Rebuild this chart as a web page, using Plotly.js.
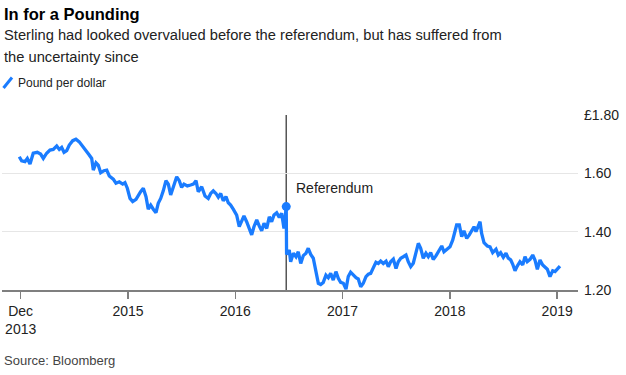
<!DOCTYPE html>
<html>
<head>
<meta charset="utf-8">
<script src="https://cdn.plot.ly/plotly-3.0.1.min.js"></script>
<style>
  html, body { margin: 0; padding: 0; background: #fff; }
  #chart { width: 626px; height: 375px; }
</style>
</head>
<body>
<div id="chart"></div>
<script>
// Dates as decimal years, values in dollars per pound
const years = [
  2013.987, 2014.009, 2014.040, 2014.062, 2014.087, 2014.117, 2014.155, 2014.186, 2014.211, 2014.242,
  2014.273, 2014.304, 2014.336, 2014.360, 2014.382, 2014.404, 2014.429, 2014.453, 2014.485, 2014.515,
  2014.546, 2014.578, 2014.609, 2014.639, 2014.662, 2014.677, 2014.702, 2014.723, 2014.746, 2014.776,
  2014.802, 2014.826, 2014.863, 2014.888, 2014.919, 2014.951, 2014.972, 2014.994, 2015.019, 2015.044,
  2015.075, 2015.096, 2015.118, 2015.143, 2015.168, 2015.189, 2015.212, 2015.236, 2015.261, 2015.282,
  2015.305, 2015.329, 2015.354, 2015.376, 2015.398, 2015.422, 2015.454, 2015.478, 2015.500, 2015.522,
  2015.553, 2015.584, 2015.609, 2015.634, 2015.655, 2015.687, 2015.718, 2015.748, 2015.771, 2015.795,
  2015.820, 2015.842, 2015.864, 2015.888, 2015.913, 2015.935, 2015.957, 2015.981, 2016.013, 2016.037,
  2016.060, 2016.081, 2016.106, 2016.131, 2016.153, 2016.174, 2016.200, 2016.224, 2016.246, 2016.268,
  2016.293, 2016.317, 2016.339, 2016.361, 2016.386, 2016.410, 2016.432, 2016.454, 2016.475, 2016.478,
  2016.503, 2016.516, 2016.541, 2016.566, 2016.587, 2016.610, 2016.634, 2016.659, 2016.680, 2016.703,
  2016.727, 2016.752, 2016.774, 2016.796, 2016.820, 2016.845, 2016.867, 2016.889, 2016.913, 2016.938,
  2016.960, 2016.982, 2017.007, 2017.032, 2017.053, 2017.075, 2017.100, 2017.125, 2017.146, 2017.169,
  2017.193, 2017.218, 2017.240, 2017.262, 2017.286, 2017.311, 2017.333, 2017.355, 2017.379, 2017.405,
  2017.426, 2017.448, 2017.473, 2017.498, 2017.519, 2017.542, 2017.566, 2017.591, 2017.612, 2017.635,
  2017.659, 2017.684, 2017.706, 2017.728, 2017.752, 2017.777, 2017.799, 2017.821, 2017.845, 2017.870,
  2017.901, 2017.924, 2017.945, 2017.970, 2018.001, 2018.026, 2018.048, 2018.063, 2018.088, 2018.110,
  2018.131, 2018.157, 2018.181, 2018.203, 2018.225, 2018.243, 2018.259, 2018.281, 2018.296, 2018.318,
  2018.349, 2018.374, 2018.399, 2018.430, 2018.451, 2018.473, 2018.498, 2018.523, 2018.544, 2018.567,
  2018.585, 2018.607, 2018.628, 2018.653, 2018.679, 2018.700, 2018.721, 2018.747, 2018.772, 2018.793,
  2018.815, 2018.840, 2018.865, 2018.886, 2018.908, 2018.933, 2018.958, 2018.980, 2019.001, 2019.026
];
const gbpusd = [
  1.657, 1.643, 1.640, 1.651, 1.632, 1.669, 1.672, 1.666, 1.651, 1.669,
  1.680, 1.682, 1.694, 1.682, 1.689, 1.672, 1.678, 1.697, 1.712, 1.717,
  1.708, 1.691, 1.674, 1.663, 1.651, 1.611, 1.636, 1.628, 1.602, 1.609,
  1.611, 1.591, 1.580, 1.566, 1.571, 1.563, 1.568, 1.549, 1.514, 1.503,
  1.511, 1.526, 1.537, 1.549, 1.520, 1.477, 1.491, 1.477, 1.465, 1.497,
  1.514, 1.540, 1.575, 1.563, 1.526, 1.552, 1.588, 1.575, 1.552, 1.563,
  1.557, 1.560, 1.563, 1.575, 1.537, 1.554, 1.522, 1.514, 1.531, 1.540,
  1.531, 1.518, 1.531, 1.506, 1.520, 1.499, 1.491, 1.477, 1.457, 1.417,
  1.434, 1.454, 1.434, 1.411, 1.389, 1.417, 1.440, 1.419, 1.403, 1.429,
  1.411, 1.451, 1.434, 1.457, 1.465, 1.449, 1.463, 1.411, 1.486, 1.322,
  1.337, 1.297, 1.326, 1.314, 1.331, 1.291, 1.318, 1.326, 1.343, 1.322,
  1.309, 1.263, 1.223, 1.219, 1.226, 1.251, 1.242, 1.257, 1.234, 1.263,
  1.240, 1.226, 1.223, 1.203, 1.246, 1.261, 1.251, 1.242, 1.238, 1.211,
  1.223, 1.246, 1.254, 1.257, 1.276, 1.295, 1.291, 1.299, 1.291, 1.299,
  1.280, 1.297, 1.306, 1.274, 1.297, 1.309, 1.314, 1.320, 1.297, 1.280,
  1.292, 1.328, 1.360, 1.343, 1.309, 1.326, 1.314, 1.328, 1.305, 1.317,
  1.337, 1.351, 1.331, 1.340, 1.348, 1.371, 1.406, 1.423, 1.423, 1.383,
  1.403, 1.377, 1.389, 1.403, 1.417, 1.400, 1.417, 1.434, 1.394, 1.362,
  1.351, 1.348, 1.328, 1.340, 1.320, 1.328, 1.312, 1.326, 1.309, 1.303,
  1.289, 1.266, 1.282, 1.297, 1.286, 1.314, 1.297, 1.305, 1.320, 1.303,
  1.271, 1.303, 1.286, 1.278, 1.271, 1.246, 1.266, 1.263, 1.271, 1.282
];

const referendumYear = [2016.475];
const referendumValue = [1.486];
const referendumLabel = "Referendum";

const xTickVals = [2014, 2015, 2016, 2017, 2018, 2019];
const xTickText = ["Dec<br>2013", "2015", "2016", "2017", "2018", "2019"];
const yTickVals = [1.2, 1.4, 1.6, 1.8];
const yTickText = ["1.20", "1.40", "1.60", "£1.80"];

const BLUE = "#1a7cff";
const FONT = "Liberation Sans, Arial, sans-serif";

// plot area in px: x 2..578, y 115..290
const PX = (px) => (px - 2) / 576;
const PY = (py) => (290 - py) / 175;

const traces = [
  {
    x: years, y: gbpusd, type: "scatter", mode: "lines",
    line: { color: BLUE, width: 3.3 }, name: "Pound per dollar",
    showlegend: false, hoverinfo: "x+y"
  },
  {
    x: referendumYear, y: referendumValue, type: "scatter", mode: "markers",
    marker: { color: BLUE, size: 9 }, showlegend: false, cliponaxis: false
  }
];

const layout = {
  width: 626, height: 375,
  margin: { l: 2, r: 48, t: 115, b: 85 },
  paper_bgcolor: "#fff", plot_bgcolor: "#fff",
  font: { family: FONT, size: 14, color: "#222" },
  showlegend: false,
  xaxis: {
    type: "linear", range: [2013.826, 2019.194],
    tickvals: xTickVals, ticktext: xTickText,
    showgrid: false, zeroline: false,
    showline: true, linecolor: "#7f7f7f", linewidth: 2,
    ticks: "outside", ticklen: 7, tickwidth: 1.5, tickcolor: "#7f7f7f",
    tickfont: { family: FONT, size: 14, color: "#222" },
    fixedrange: true
  },
  yaxis: {
    range: [1.2, 1.8], side: "right",
    tickvals: yTickVals, ticktext: yTickText,
    showgrid: true, gridcolor: "#e6e6e6", gridwidth: 1,
    zeroline: false, showline: false, ticks: "",
    ticklabelstandoff: 5,
    tickfont: { family: FONT, size: 14, color: "#222" },
    fixedrange: true
  },
  shapes: [
    {
      type: "line", xref: "x", yref: "paper",
      x0: referendumYear[0], x1: referendumYear[0], y0: 0, y1: 1,
      line: { color: "#555", width: 1.5 }, layer: "below"
    },
    {
      type: "line", xref: "paper", yref: "paper",
      x0: PX(3.5), y0: PY(88), x1: PX(12), y1: PY(77.5),
      line: { color: BLUE, width: 3 }
    }
  ],
  annotations: [
    {
      text: "<b>In for a Pounding</b>", xref: "paper", yref: "paper",
      x: PX(2), y: PY(14), xanchor: "left", yanchor: "middle", showarrow: false,
      font: { family: FONT, size: 16.5, color: "#000" }
    },
    {
      text: "Sterling had looked overvalued before the referendum, but has suffered from",
      xref: "paper", yref: "paper",
      x: PX(2), y: PY(35), xanchor: "left", yanchor: "middle", showarrow: false,
      font: { family: FONT, size: 14.7, color: "#222" }
    },
    {
      text: "the uncertainty since",
      xref: "paper", yref: "paper",
      x: PX(2), y: PY(57), xanchor: "left", yanchor: "middle", showarrow: false,
      font: { family: FONT, size: 14.7, color: "#222" }
    },
    {
      text: "Pound per dollar", xref: "paper", yref: "paper",
      x: PX(16), y: PY(83), xanchor: "left", yanchor: "middle", showarrow: false,
      font: { family: FONT, size: 12, color: "#222" }
    },
    {
      text: referendumLabel, xref: "x", yref: "y",
      x: referendumYear[0], y: 1.55, xanchor: "left", yanchor: "middle",
      xshift: 8, showarrow: false,
      font: { family: FONT, size: 14, color: "#222" }
    },
    {
      text: "Source: Bloomberg", xref: "paper", yref: "paper",
      x: PX(2), y: PY(360), xanchor: "left", yanchor: "middle", showarrow: false,
      font: { family: FONT, size: 13, color: "#444" }
    }
  ]
};

Plotly.newPlot("chart", traces, layout, { displayModeBar: false, staticPlot: true });
</script>
</body>
</html>
